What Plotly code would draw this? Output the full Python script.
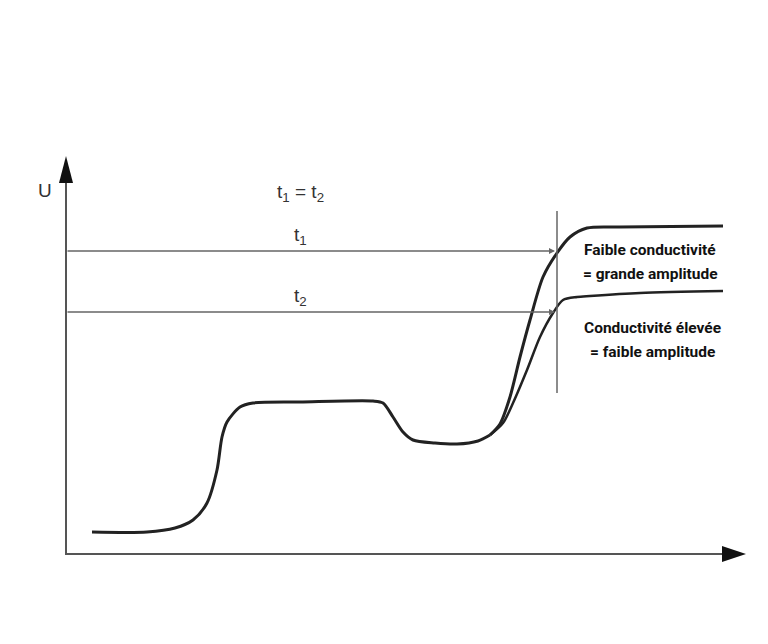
import plotly.graph_objects as go

# signal U(t), coordinates in the picture frame (x right, y down)
base_x = [92, 147, 175, 193, 207, 217, 222, 227, 240, 253, 300, 373, 383, 393, 403, 413, 435, 457, 478, 490]
base_y = [532, 532, 528, 520, 503, 470, 437, 422, 407, 403, 402, 401, 403, 417, 432, 440, 443, 444, 441, 435]

high_x = [490, 500, 510, 520, 530, 543, 557, 570, 587, 620, 723]
high_y = [435, 424, 397, 357, 320, 277, 253, 237, 228, 227, 226]

low_x = [490, 503, 513, 527, 540, 553, 563, 577, 590, 640, 723]
low_y = [435, 423, 403, 370, 337, 313, 300, 297, 296, 293, 291]

t_levels = [251, 312]
t_labels = ["t<sub>1</sub>", "t<sub>2</sub>"]
label_high = ["Faible conductivité", "= grande amplitude"]
label_low = ["Conductivité élevée", "= faible amplitude"]

dark = "#222222"
grey = "#666666"
off = 8  # page body margin

fig = go.Figure()
for xs, ys, w in [(base_x, base_y, 3), (high_x, high_y, 3), (low_x, low_y, 2.5)]:
    fig.add_trace(go.Scatter(x=xs, y=ys, mode="lines",
                             line=dict(color=dark, width=w, shape="spline", smoothing=0.8)))

shapes = []
annotations = []

# axes
shapes.append(dict(type="line", x0=66, y0=555, x1=66, y1=180, line=dict(color="#555", width=2)))
shapes.append(dict(type="line", x0=66, y0=554, x1=725, y1=554, line=dict(color="#555", width=2)))
shapes.append(dict(type="path", path="M 59 183 L 73 183 L 66 156 Z", fillcolor="#111", line=dict(width=0)))
shapes.append(dict(type="path", path="M 722 546 L 722 562 L 746 554 Z", fillcolor="#111", line=dict(width=0)))

# vertical marker
shapes.append(dict(type="line", x0=557, y0=211, x1=557, y1=393, line=dict(color=grey, width=1.5)))

# horizontal time arrows
for lvl, lab in zip(t_levels, t_labels):
    annotations.append(dict(x=555, y=lvl, ax=66, ay=lvl, xref="x", yref="y", axref="x", ayref="y",
                            text="", showarrow=True, arrowhead=2, arrowsize=0.8,
                            arrowwidth=1.5, arrowcolor=grey))
    annotations.append(dict(x=300, y=lvl - 15, text=lab, showarrow=False,
                            font=dict(family="Liberation Sans", size=19, color="#333")))

annotations.append(dict(x=45, y=190, text="U", showarrow=False,
                        font=dict(family="Liberation Sans", size=19, color="#333")))
annotations.append(dict(x=300, y=193, text="t<sub>1</sub> = t<sub>2</sub>", showarrow=False,
                        font=dict(family="Liberation Sans", size=19, color="#333")))

for i, line in enumerate(label_high):
    annotations.append(dict(x=650, y=250 + 24 * i, text="<b>" + line + "</b>", showarrow=False,
                            font=dict(family="Roboto", size=15.5, color="#111")))
for i, line in enumerate(label_low):
    annotations.append(dict(x=652, y=328 + 24 * i, text="<b>" + line + "</b>", showarrow=False,
                            font=dict(family="Roboto", size=15.5, color="#111")))

fig.update_layout(
    width=768, height=644,
    margin=dict(l=0, r=0, t=0, b=0),
    paper_bgcolor="white", plot_bgcolor="white",
    showlegend=False,
    xaxis=dict(range=[off, 768 + off], visible=False, fixedrange=True),
    yaxis=dict(range=[644 + off, off], visible=False, fixedrange=True),
    shapes=shapes, annotations=annotations,
)

fig.write_html("out.html")
